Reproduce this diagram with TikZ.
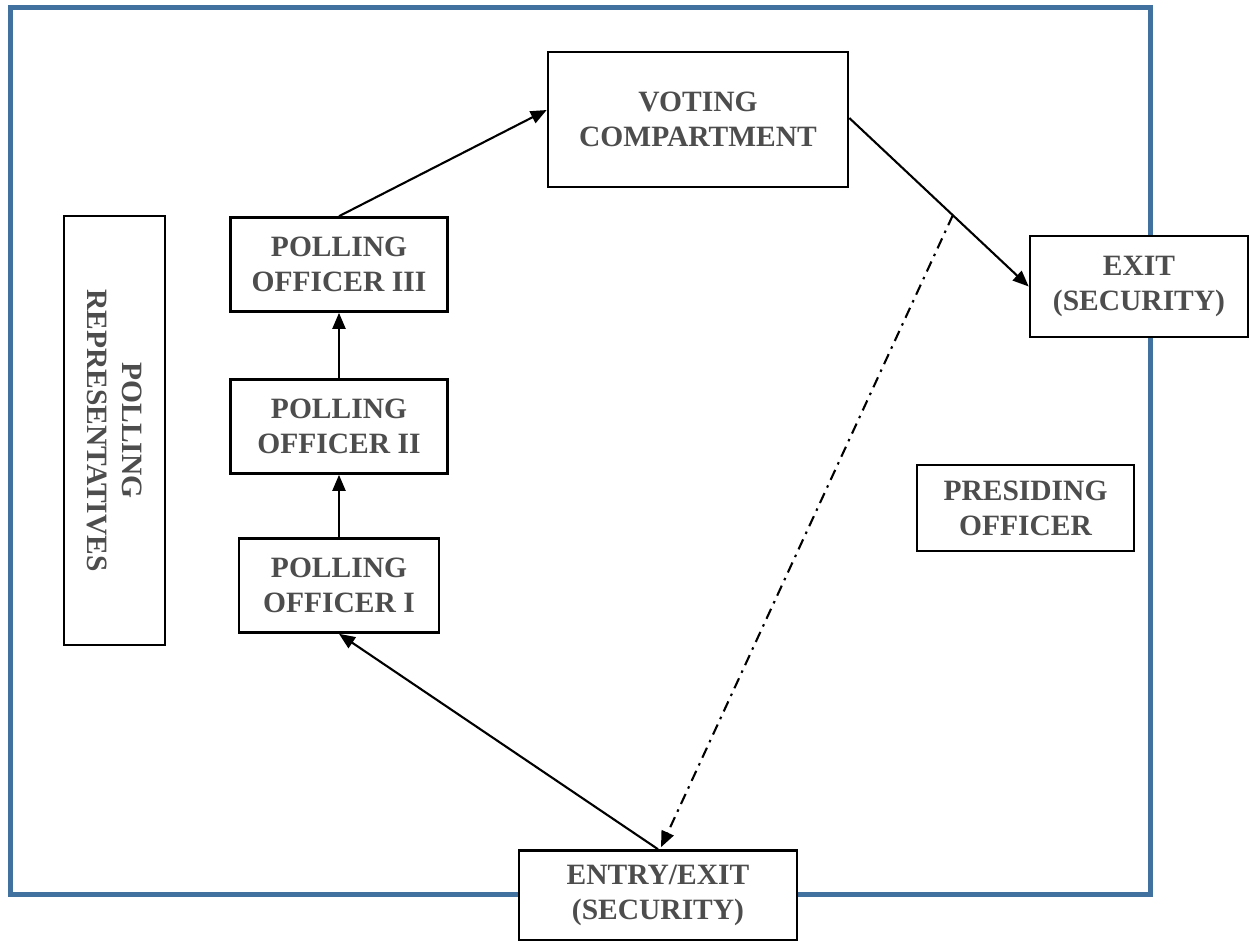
\documentclass[tikz,border=0pt]{standalone}
\usepackage{fontspec}
\setmainfont{Liberation Serif}
\usetikzlibrary{arrows.meta,calc}
\definecolor{frameblue}{RGB}{65,113,158}
\definecolor{textgray}{RGB}{77,77,77}
\begin{document}
\begin{tikzpicture}[x=1pt,y=-1pt,
  box/.style={draw=black,line width=2.6pt,fill=white,inner sep=0pt,align=center,
    font=\fontsize{29.5}{35}\selectfont\bfseries,text=textgray},
  conn/.style={line width=2.1pt,-{Triangle[length=16pt,width=13pt]}},
  dashdot/.style={line width=2.1pt,dash pattern=on 11pt off 6pt on 2.5pt off 6pt,-{Triangle[length=16pt,width=13pt]}}]
\useasboundingbox (0,0) rectangle (1250,940);
\begin{scope}
\clip (0,0) rectangle (1250,940);
\draw[frameblue,line width=5pt] (10.5,7.5) rectangle (1150,894.5);
\node[box,minimum width=300pt,minimum height=135pt] (vote) at (698,119.5) {VOTING\\COMPARTMENT};
\node[box,minimum width=217pt,minimum height=94pt] (po3) at (339,264.5) {POLLING\\OFFICER III};
\node[box,minimum width=217pt,minimum height=94pt] (po2) at (339,426.5) {POLLING\\OFFICER II};
\node[box,minimum width=200pt,minimum height=94pt] (po1) at (339,585.5) {POLLING\\OFFICER I};
\node[box,rotate=-90,minimum width=429pt,minimum height=101pt] (reps) at (114.5,430.5) {POLLING\\REPRESENTATIVES};
\node[box,minimum width=218pt,minimum height=101pt] (exit) at (1139,286.5) {EXIT\\(SECURITY)};
\node[box,minimum width=217pt,minimum height=86pt] (pres) at (1025.5,508) {PRESIDING\\OFFICER};
\node[box,minimum width=278pt,minimum height=90pt] (entry) at (658,895.5) {ENTRY/EXIT\\(SECURITY)};
\end{scope}
\draw[conn] (po3.north) -- ($(vote.west)+(0,-9.5)$);
\draw[conn] (po2.north) -- (po3.south);
\draw[conn] (po1.north) -- (po2.south);
\draw[conn] (entry.north) -- (po1.south);
\coordinate (vstart) at ($(vote.east)+(0,-1.5)$);
\draw[conn] (vstart) -- (exit.west);
\coordinate (split) at ($(vstart)!0.577!(exit.west)$);
\coordinate (dtip) at ($(entry.north)+(3,-2)$);
\draw[dashdot] (split) -- (dtip);
\end{tikzpicture}
\end{document}
